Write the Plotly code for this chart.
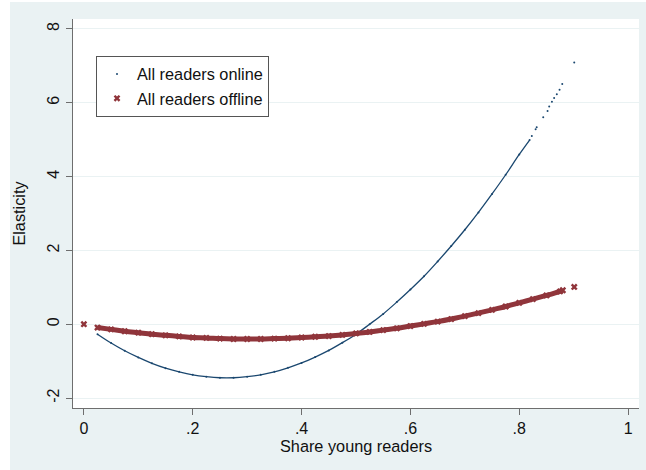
import plotly.graph_objects as go

# ---- data ----
online_x = [0.025, 0.05, 0.075, 0.1, 0.125, 0.15, 0.175, 0.2, 0.225, 0.25, 0.275, 0.3,
            0.325, 0.35, 0.375, 0.4, 0.425, 0.45, 0.475, 0.5, 0.525, 0.55, 0.575, 0.6,
            0.625, 0.65, 0.675, 0.7, 0.725, 0.75, 0.775, 0.8, 0.819]
online_y = [-0.27, -0.51, -0.72, -0.90, -1.06, -1.19, -1.29, -1.37, -1.42, -1.45, -1.45, -1.42,
            -1.37, -1.29, -1.18, -1.05, -0.89, -0.71, -0.50, -0.27, 0.00, 0.28, 0.60, 0.94,
            1.30, 1.70, 2.12, 2.56, 3.03, 3.53, 4.05, 4.60, 4.99]
online_sparse_x = [0.823, 0.830, 0.832, 0.844, 0.852, 0.855, 0.860, 0.864, 0.869, 0.874, 0.879, 0.901]
online_sparse_y = [5.10, 5.28, 5.34, 5.61, 5.78, 5.90, 6.03, 6.13, 6.23, 6.35, 6.51, 7.09]

offline_x = [0.025, 0.05, 0.075, 0.1, 0.125, 0.15, 0.175, 0.2, 0.225, 0.25, 0.275, 0.3,
             0.325, 0.35, 0.375, 0.4, 0.425, 0.45, 0.475, 0.5, 0.525, 0.55, 0.575, 0.6,
             0.625, 0.65, 0.675, 0.7, 0.725, 0.75, 0.775, 0.8, 0.825, 0.85, 0.875, 0.88]
offline_y = [-0.09, -0.14, -0.19, -0.23, -0.27, -0.30, -0.33, -0.36, -0.37, -0.39, -0.40, -0.40,
             -0.40, -0.39, -0.38, -0.36, -0.34, -0.32, -0.29, -0.25, -0.21, -0.16, -0.11, -0.05,
             0.01, 0.07, 0.14, 0.22, 0.30, 0.39, 0.48, 0.58, 0.68, 0.78, 0.89, 0.92]
offline_iso_x = [0.0, 0.901]
offline_iso_y = [0.0, 1.01]

x_ticks = [0, 0.2, 0.4, 0.6, 0.8, 1]
x_ticklabels = ["0", ".2", ".4", ".6", ".8", "1"]
y_ticks = [-2, 0, 2, 4, 6, 8]
y_ticklabels = ["-2", "0", "2", "4", "6", "8"]

NAVY = "#1A476F"
MAROON = "#90353B"
BG = "#EAF2F3"
AXIS = "#6e6e6e"
FONT = "Liberation Sans, Arial, sans-serif"

fig = go.Figure()

# online: dense part drawn as thin line, all points as tiny dots
fig.add_trace(go.Scatter(x=online_x, y=online_y, mode="lines",
                         line=dict(color=NAVY, width=1.3, shape="spline"),
                         showlegend=False, hoverinfo="skip"))
fig.add_trace(go.Scatter(x=online_x + online_sparse_x, y=online_y + online_sparse_y,
                         mode="markers", name="All readers online",
                         marker=dict(color=NAVY, size=2)))

# offline: thick band of x markers
fig.add_trace(go.Scatter(x=offline_x, y=offline_y, mode="lines",
                         line=dict(color=MAROON, width=5, shape="spline"),
                         showlegend=False, hoverinfo="skip"))
fig.add_trace(go.Scatter(x=offline_x + offline_iso_x, y=offline_y + offline_iso_y,
                         mode="markers", name="All readers offline",
                         marker=dict(color=MAROON, size=6, symbol="x")))

W, H = 646, 470
L, R, T, B = 73, 7, 19, 62
pw, ph = W - L - R, H - T - B

def px_x(p):
    return (p - L) / pw

def px_y(p):
    return (H - B - p) / ph

fig.update_layout(
    width=W, height=H,
    margin=dict(l=L, r=R, t=T, b=B, pad=0),
    paper_bgcolor=BG,
    plot_bgcolor="white",
    font=dict(family=FONT, size=16, color="#111111"),
    showlegend=True,
    legend=dict(
        x=px_x(96), y=px_y(56), xanchor="left", yanchor="top",
        bgcolor="white", bordercolor="#555555", borderwidth=1,
        font=dict(size=16.3, color="#111111"),
        tracegroupgap=0,
    ),
    shapes=[
        dict(type="rect", xref="paper", yref="paper", layer="below",
             x0=px_x(-5), x1=px_x(10), y0=px_y(H + 5), y1=px_y(-5),
             fillcolor="white", line=dict(width=0)),
        dict(type="rect", xref="paper", yref="paper", layer="below",
             x0=px_x(-5), x1=px_x(W + 5), y0=px_y(2), y1=px_y(-5),
             fillcolor="white", line=dict(width=0)),
    ],
    xaxis=dict(
        range=[-0.02, 1.02], tickvals=x_ticks, ticktext=x_ticklabels,
        showgrid=False, zeroline=False,
        showline=True, linecolor=AXIS, linewidth=1.3,
        ticks="outside", ticklen=6, tickcolor=AXIS, tickwidth=1.3,
        tickfont=dict(size=16),
        title=dict(text="Share young readers", font=dict(size=16.3), standoff=0),
    ),
    yaxis=dict(
        range=[-2.27, 8.27], tickvals=y_ticks, ticktext=y_ticklabels,
        showgrid=True, gridcolor=BG, gridwidth=1.2, zeroline=False,
        showline=True, linecolor=AXIS, linewidth=1.3,
        ticks="outside", ticklen=6, tickcolor=AXIS, tickwidth=1.3,
        tickangle=-90, tickfont=dict(size=16),
        title=dict(text="Elasticity", font=dict(size=16.3), standoff=15),
    ),
)

fig.write_html("out.html", config={"displayModeBar": False},
               post_script="document.body.style.margin='0px';")
